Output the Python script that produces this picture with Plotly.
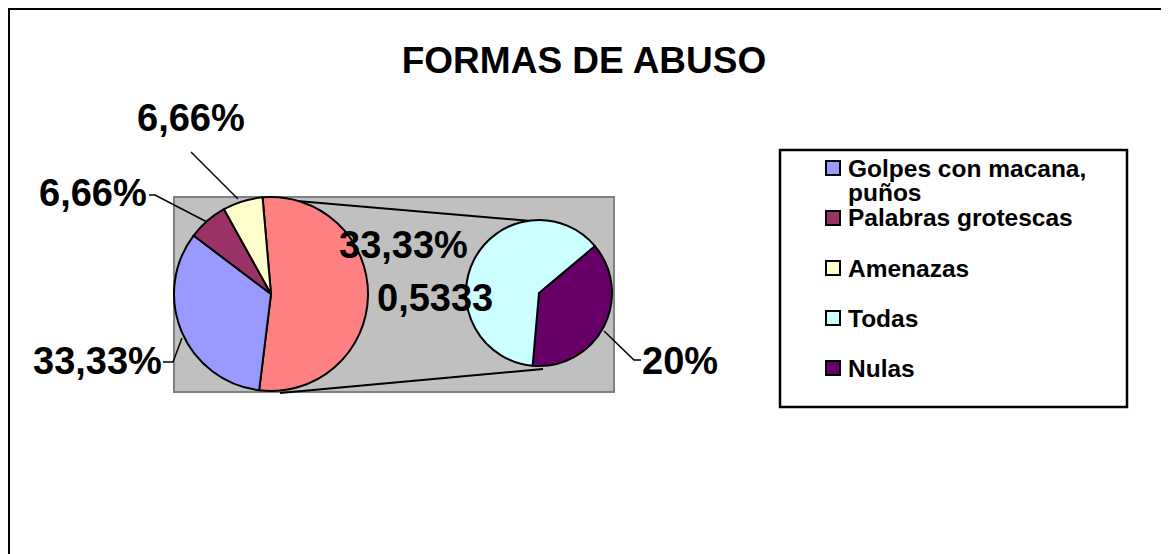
import plotly.graph_objects as go

# page body has an 8px margin, so the figure is drawn 8px in from the window edge
OFF = 8
W, H = 1169 - OFF, 554 - OFF

# main pie (the "otras" slice is split into the second pie)
main_labels = ["Otras", "Golpes con macana, puños", "Palabras grotescas", "Amenazas"]
main_values = [53.33, 33.33, 6.66, 6.66]
main_text = ["0,5333", "33,33%", "6,66%", "6,66%"]

sub_labels = ["Nulas", "Todas"]
sub_values = [20, 33.33]
sub_text = ["20%", "33,33%"]

colors = {
    "Otras": "#FF8080",
    "Golpes con macana, puños": "#9999FF",
    "Palabras grotescas": "#993366",
    "Amenazas": "#FFFFCC",
    "Todas": "#CCFFFF",
    "Nulas": "#660066",
}
legend_order = ["Golpes con macana, puños", "Palabras grotescas", "Amenazas", "Todas", "Nulas"]

FONT = "Liberation Sans, Arial, sans-serif"


# positions below are window pixels, converted to paper coords
def px(x):
    return (x - OFF) / W


def py(y):
    return 1 - (y - OFF) / H


def pie_domain(cx, cy, r):
    return dict(x=[px(cx - r), px(cx + r)], y=[py(cy + r), py(cy - r)])


fig = go.Figure()
fig.add_trace(go.Pie(
    labels=main_labels, values=main_values, sort=False, direction="clockwise", rotation=-5,
    marker=dict(colors=[colors[l] for l in main_labels], line=dict(color="black", width=2)),
    textinfo="none", showlegend=False, hoverinfo="label+percent",
    domain=pie_domain(271, 294, 97),
))
fig.add_trace(go.Pie(
    labels=sub_labels, values=sub_values, sort=False, direction="clockwise", rotation=50,
    marker=dict(colors=[colors[l] for l in sub_labels], line=dict(color="black", width=2)),
    textinfo="none", showlegend=False, hoverinfo="label+percent",
    domain=pie_domain(539, 293, 73),
))

shapes = []
# outer frame
shapes.append(dict(type="rect", xref="paper", yref="paper", x0=px(9), x1=px(1165), y0=py(570), y1=py(9),
                   line=dict(color="black", width=2), fillcolor="rgba(0,0,0,0)"))
# gray plot area
shapes.append(dict(type="rect", xref="paper", yref="paper", x0=px(174), x1=px(614), y0=py(392), y1=py(197),
                   line=dict(color="#808080", width=2), fillcolor="#C0C0C0", layer="below"))
# connector lines between pies
for (x0, y0, x1, y1) in [(262, 198, 543, 222), (280, 393, 543, 369)]:
    shapes.append(dict(type="line", xref="paper", yref="paper", x0=px(x0), y0=py(y0), x1=px(x1), y1=py(y1),
                       line=dict(color="black", width=2), layer="below"))

# leader lines for outside labels
leaders = [
    [(191, 152), (238, 199)],
    [(149, 195), (155, 195), (207, 222)],
    [(163, 362), (173, 362), (182, 338)],
    [(604, 331), (634, 360), (641, 360)],
]
for pts in leaders:
    path = "M " + " L ".join(f"{px(x)},{py(y)}" for x, y in pts)
    shapes.append(dict(type="path", xref="paper", yref="paper", path=path, line=dict(color="black", width=1.5)))

annotations = []
label_pos = {
    "Amenazas": (191, 118),
    "Palabras grotescas": (93, 193),
    "Golpes con macana, puños": (97, 361),
    "Otras": (435, 298),
    "Todas": (403, 245),
    "Nulas": (680, 361),
}
for lab, txt in list(zip(main_labels, main_text)) + list(zip(sub_labels, sub_text)):
    x, y = label_pos[lab]
    annotations.append(dict(x=px(x), y=py(y), xref="paper", yref="paper", text=txt, showarrow=False,
                            xanchor="center", yanchor="middle",
                            font=dict(family=FONT, size=38, color="black", weight="bold")))

# legend box
shapes.append(dict(type="rect", xref="paper", yref="paper", x0=px(780), x1=px(1127), y0=py(407), y1=py(150),
                   line=dict(color="black", width=2.5), fillcolor="white"))
legend_font = dict(family=FONT, size=24.5, color="black", weight="bold")
for i, lab in enumerate(legend_order):
    cy = 168 + 50 * i
    shapes.append(dict(type="rect", xref="paper", yref="paper", x0=px(826), x1=px(840), y0=py(cy + 7), y1=py(cy - 7),
                       line=dict(color="black", width=2), fillcolor=colors[lab]))
    # long label wraps onto a second, tightly spaced line
    for j, part in enumerate(lab.replace(", ", ",\n").split("\n")):
        annotations.append(dict(x=px(846), y=py(cy + 24 * j), xref="paper", yref="paper", text=part,
                                showarrow=False, xanchor="left", yanchor="middle", align="left",
                                font=legend_font))

fig.update_layout(
    width=W, height=H,
    margin=dict(l=0, r=0, t=0, b=0),
    paper_bgcolor="white", plot_bgcolor="white",
    title=dict(text="FORMAS DE ABUSO", x=px(584), y=py(60), xanchor="center", yanchor="middle",
               font=dict(family=FONT, size=37, color="black", weight="bold")),
    shapes=shapes, annotations=annotations,
)

fig.write_html("out.html")
